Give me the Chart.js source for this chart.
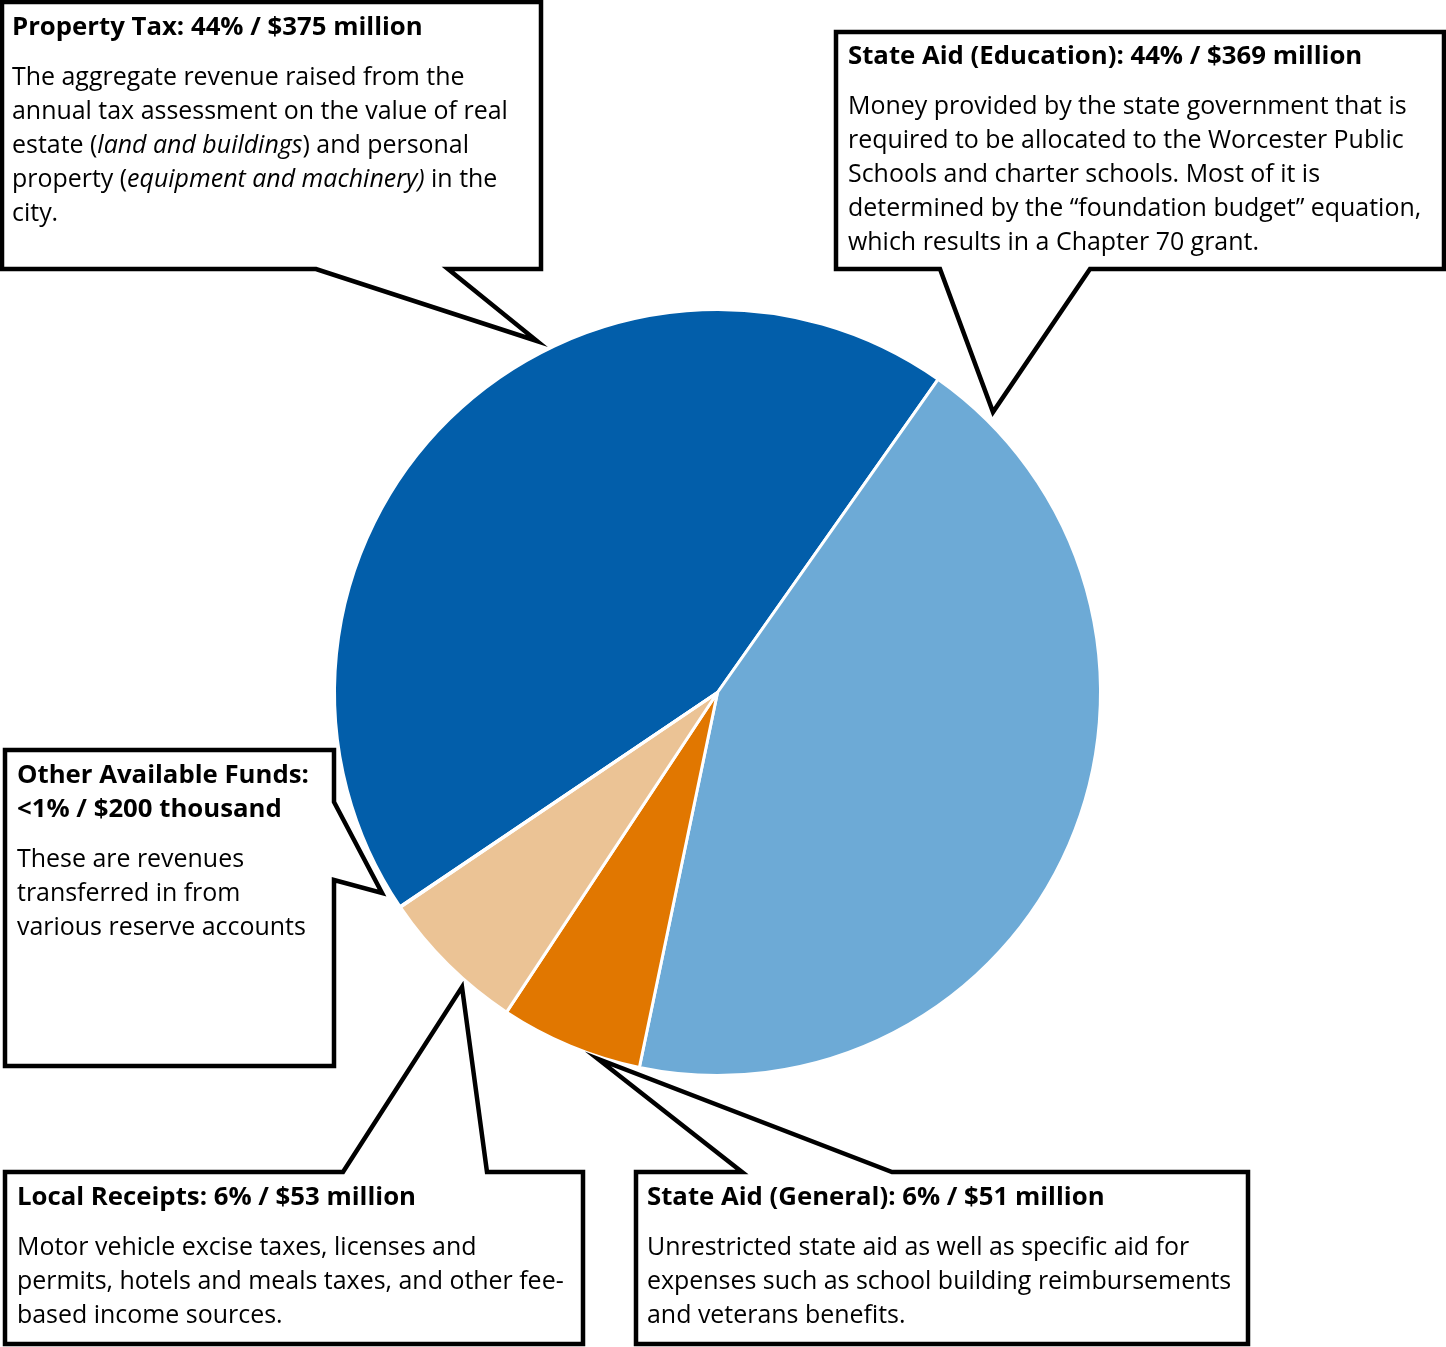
<!DOCTYPE html>
<html>
<head>
<meta charset="utf-8">
<script src="https://cdn.jsdelivr.net/npm/chart.js@4.4.1/dist/chart.umd.min.js"></script>
<style>
    html, body { margin: 0; padding: 0; background: #ffffff; }
    #wrap { position: relative; width: 1446px; height: 1347px; }
</style>
</head>
<body>
<div id="wrap"><canvas id="revenueChart"></canvas></div>
<script>
// Data pendapatan (juta dolar)
const labels = ['Property Tax', 'State Aid (Education)', 'State Aid (General)', 'Local Receipts', 'Other Available Funds'];
const amounts = [375, 369, 51, 53, 0.2];
const sliceColors = ['#025EAA', '#6DAAD6', '#E17700', '#EBC395', '#9A9A9A'];

// Judul setiap callout (urutan sama dengan labels)
const titles = [
    ['Property Tax: 44% / $375 million'],
    ['State Aid (Education): 44% / $369 million'],
    ['State Aid (General): 6% / $51 million'],
    ['Local Receipts: 6% / $53 million'],
    ['Other Available Funds:', '<1% / $200 thousand']
];

// Deskripsi, baris per baris; segmen {i:true} = miring
const descriptions = [
    [
        [{ t: 'The aggregate revenue raised from the' }],
        [{ t: 'annual tax assessment on the value of real' }],
        [{ t: 'estate (' }, { t: 'land and buildings', i: true }, { t: ') and personal' }],
        [{ t: 'property (' }, { t: 'equipment and machinery)', i: true }, { t: ' in the' }],
        [{ t: 'city.' }]
    ],
    [
        [{ t: 'Money provided by the state government that is' }],
        [{ t: 'required to be allocated to the Worcester Public' }],
        [{ t: 'Schools and charter schools. Most of it is' }],
        [{ t: 'determined by the \u201cfoundation budget\u201d equation,' }],
        [{ t: 'which results in a Chapter 70 grant.' }]
    ],
    [
        [{ t: 'Unrestricted state aid as well as specific aid for' }],
        [{ t: 'expenses such as school building reimbursements' }],
        [{ t: 'and veterans benefits.' }]
    ],
    [
        [{ t: 'Motor vehicle excise taxes, licenses and' }],
        [{ t: 'permits, hotels and meals taxes, and other fee-' }],
        [{ t: 'based income sources.' }]
    ],
    [
        [{ t: 'These are revenues' }],
        [{ t: 'transferred in from' }],
        [{ t: 'various reserve accounts' }]
    ]
];

// Posisi kotak callout (layout saja)
const callouts = [
    { box: [2, 2, 541, 269], side: 'bottom', base: [316, 448], tip: [537, 341], x: 12, y: 35 },
    { box: [836, 32, 1444, 269], side: 'bottom', base: [940, 1090], tip: [993, 412], x: 848, y: 64 },
    { box: [636, 1172, 1248, 1344], side: 'top', base: [742, 892], tip: [598, 1059], x: 647, y: 1205 },
    { box: [5, 1172, 583, 1344], side: 'top', base: [343, 487], tip: [462, 987], x: 17, y: 1205 },
    { box: [5, 750, 334, 1066], side: 'right', base: [802, 880], tip: [382, 893], x: 17, y: 783 }
];

const FONT = '"Open Sans", "Noto Sans", sans-serif';
const LINE_H = 34;
const TITLE_GAP = 50;

// Ukuran font disesuaikan dengan lebar baris di gambar asli
function fitSize(ctx, weight, text, target) {
    ctx.font = weight + ' 100px ' + FONT;
    return 100 * target / ctx.measureText(text).width;
}

function bubblePath(ctx, c) {
    const [x0, y0, x1, y1] = c.box;
    const [a, b] = c.base;
    const [tx, ty] = c.tip;
    ctx.beginPath();
    if (c.side === 'bottom') {
        ctx.moveTo(x0, y0);
        ctx.lineTo(x1, y0);
        ctx.lineTo(x1, y1);
        ctx.lineTo(b, y1);
        ctx.lineTo(tx, ty);
        ctx.lineTo(a, y1);
        ctx.lineTo(x0, y1);
    } else if (c.side === 'top') {
        ctx.moveTo(x0, y0);
        ctx.lineTo(a, y0);
        ctx.lineTo(tx, ty);
        ctx.lineTo(b, y0);
        ctx.lineTo(x1, y0);
        ctx.lineTo(x1, y1);
        ctx.lineTo(x0, y1);
    } else {
        ctx.moveTo(x0, y0);
        ctx.lineTo(x1, y0);
        ctx.lineTo(x1, a);
        ctx.lineTo(tx, ty);
        ctx.lineTo(x1, b);
        ctx.lineTo(x1, y1);
        ctx.lineTo(x0, y1);
    }
    ctx.closePath();
}

const calloutPlugin = {
    id: 'callouts',
    afterDraw(chart) {
        const ctx = chart.ctx;
        ctx.save();
        const titleSize = fitSize(ctx, 'bold', 'Property Tax: 44% / $375 million', 411);
        const bodySize = fitSize(ctx, 'normal', 'annual tax assessment on the value of real', 496);

        callouts.forEach((c, i) => {
            bubblePath(ctx, c);
            ctx.fillStyle = '#ffffff';
            ctx.fill();
            ctx.lineWidth = 4.5;
            ctx.lineJoin = 'miter';
            ctx.strokeStyle = '#000000';
            ctx.stroke();

            ctx.fillStyle = '#000000';
            ctx.textBaseline = 'alphabetic';
            ctx.textAlign = 'left';
            let y = c.y;
            ctx.font = 'bold ' + titleSize + 'px ' + FONT;
            titles[i].forEach((line, k) => {
                if (k > 0) y += LINE_H;
                ctx.fillText(line, c.x, y);
            });
            y += TITLE_GAP;
            descriptions[i].forEach((line, k) => {
                if (k > 0) y += LINE_H;
                let x = c.x;
                line.forEach(seg => {
                    ctx.font = (seg.i ? 'italic ' : 'normal ') + bodySize + 'px ' + FONT;
                    ctx.fillText(seg.t, x, y);
                    x += ctx.measureText(seg.t).width;
                });
            });
        });
        ctx.restore();
    }
};

const ctx = document.getElementById('revenueChart').getContext('2d');
new Chart(ctx, {
    type: 'pie',
    data: {
        labels: labels,
        datasets: [{
            data: amounts,
            backgroundColor: sliceColors,
            borderColor: '#ffffff',
            borderWidth: 3
        }]
    },
    options: {
        responsive: true,
        maintainAspectRatio: false,
        animation: false,
        rotation: -124,
        layout: { padding: { left: 333, right: 344, top: 308, bottom: 270 } },
        plugins: { legend: { display: false }, tooltip: { enabled: false } }
    },
    plugins: [calloutPlugin]
});
</script>
</body>
</html>
